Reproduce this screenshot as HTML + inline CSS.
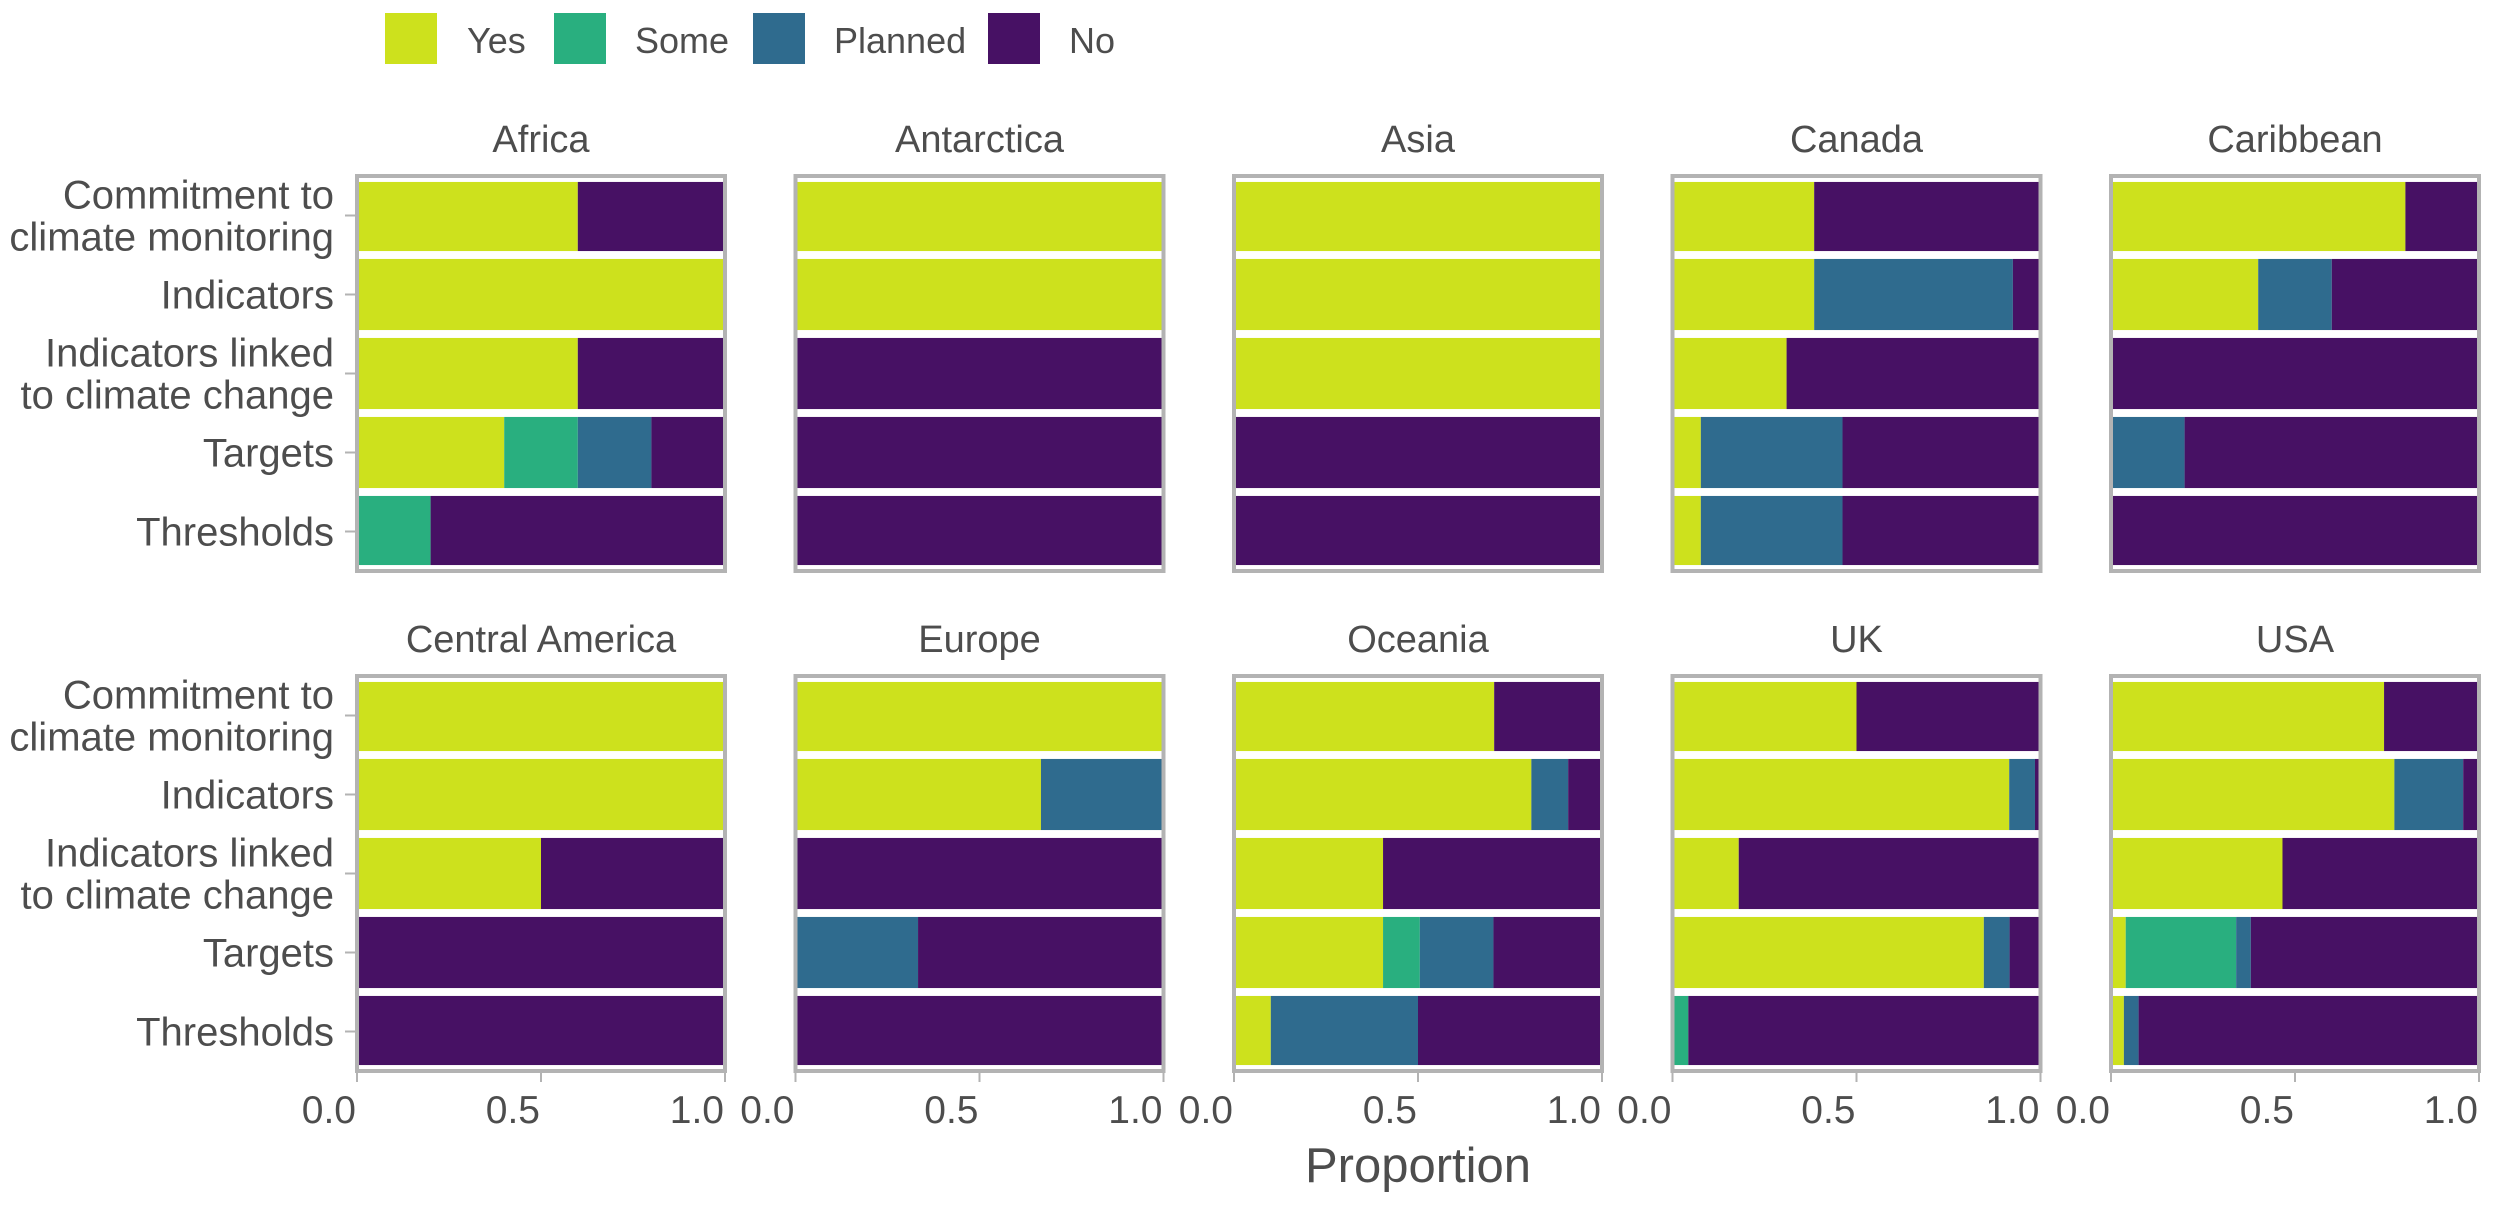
<!DOCTYPE html>
<html><head><meta charset="utf-8"><style>
html,body{margin:0;padding:0;background:#fff;}
svg text{font-family:"Liberation Sans",Arial,sans-serif;fill:#4d4d4d;}
</style></head><body>
<svg id="chart" width="2500" height="1200" xmlns="http://www.w3.org/2000/svg"></svg>
<script>
const categories = ["Yes","Some","Planned","No"];
const colors = ["#cde11d","#29af7f","#2f6b8e","#471164"];
const regions = ["Africa","Antarctica","Asia","Canada","Caribbean","Central America","Europe","Oceania","UK","USA"];
const items = [["Commitment to","climate monitoring"],["Indicators"],["Indicators linked","to climate change"],["Targets"],["Thresholds"]];
const xTicks = [0,0.5,1];
const xTickLabels = ["0.0","0.5","1.0"];
// values per region: rows = items, cols = [Yes, Some, Planned, No]
const africa = [[0.6,0,0,0.4],[1,0,0,0],[0.6,0,0,0.4],[0.4,0.2,0.2,0.2],[0,0.2,0,0.8]];
const antarctica = [[1,0,0,0],[1,0,0,0],[0,0,0,1],[0,0,0,1],[0,0,0,1]];
const asia = [[1,0,0,0],[1,0,0,0],[1,0,0,0],[0,0,0,1],[0,0,0,1]];
const canada = [[0.385,0,0,0.615],[0.385,0,0.54,0.075],[0.31,0,0,0.69],[0.077,0,0.385,0.538],[0.077,0,0.385,0.538]];
const caribbean = [[0.8,0,0,0.2],[0.4,0,0.2,0.4],[0,0,0,1],[0,0,0.2,0.8],[0,0,0,1]];
const centralAmerica = [[1,0,0,0],[1,0,0,0],[0.5,0,0,0.5],[0,0,0,1],[0,0,0,1]];
const europe = [[1,0,0,0],[0.667,0,0.333,0],[0,0,0,1],[0,0,0.333,0.667],[0,0,0,1]];
const oceania = [[0.707,0,0,0.293],[0.808,0,0.1,0.092],[0.405,0,0,0.595],[0.405,0.1,0.2,0.295],[0.1,0,0.4,0.5]];
const uk = [[0.5,0,0,0.5],[0.915,0,0.07,0.015],[0.18,0,0,0.82],[0.846,0,0.07,0.084],[0,0.043,0,0.957]];
const usa = [[0.742,0,0,0.258],[0.77,0,0.187,0.043],[0.466,0,0,0.534],[0.04,0.30,0.04,0.62],[0.035,0,0.04,0.925]];
const regionData = [africa,antarctica,asia,canada,caribbean,centralAmerica,europe,oceania,uk,usa];

const svg = document.getElementById('chart');
const NS = "http://www.w3.org/2000/svg";
function mk(tag, attrs, parent){const e=document.createElementNS(NS,tag);for(const k in attrs)e.setAttribute(k,attrs[k]);(parent||svg).appendChild(e);return e;}

const panelX0 = 357, panelStep = 438.5, panelW = 368, panelH = 395;
const rowY = [176, 676];
const bandH = panelH/5;

// legend
const legendKeyX = [385,554,753,988];
const legendTextX = [467,635,834,1069];
categories.forEach((c,i)=>{
  const g = mk('g',{});
  
  
  mk('rect',{x:legendKeyX[i],y:13,width:52,height:51,fill:colors[i]},g);
  const t = mk('text',{x:legendTextX[i],y:53,'font-size':36},g);
  t.textContent = c;
});

regions.forEach((r,ri)=>{
  const col = ri%5, row = Math.floor(ri/5);
  const px = panelX0 + col*panelStep, py = rowY[row];
  const xs = v => px + v*panelW;
  const g = mk('g',{});
  
  
  const st = mk('text',{x:px+panelW/2,y:py-24,'font-size':38,'text-anchor':'middle'},g);
  
  
  st.textContent = r;
  const data = regionData[ri];
  data.forEach((vals,ii)=>{
    const by = py + ii*bandH + bandH*0.05 + (ii===0?2:0);
    const bh = bandH*0.9 - (ii===0?2:0) - (ii===4?2:0);
    let acc = 0;
    vals.forEach((v,ci)=>{
      if(v<=0) return;
      const rect = mk('rect',{x:xs(acc),y:by,width:xs(acc+v)-xs(acc),height:bh,fill:colors[ci]},g);
      
      
      acc += v;
    });
  });
  const border = mk('rect',{x:px,y:py,width:panelW,height:panelH,fill:'none',stroke:'#b3b3b3','stroke-width':4},g);
  
  
  if(row===1){
    xTicks.forEach((t,ti)=>{
      mk('line',{x1:xs(t),x2:xs(t),y1:py+panelH+2,y2:py+panelH+11,stroke:'#b3b3b3','stroke-width':2},g);
      const tl = mk('text',{x:xs(t)-1,y:1123,'font-size':39,'text-anchor':'end'},g);
      
      
      tl.textContent = xTickLabels[ti];
    });
  }
});

// y axis labels
rowY.forEach(py=>{
  items.forEach((lines,ii)=>{
    const cy = py + ii*bandH + bandH/2;
    mk('line',{x1:345,x2:357,y1:cy,y2:cy,stroke:'#b3b3b3','stroke-width':2});
    const t = mk('text',{x:334,'font-size':40,'text-anchor':'end'});
    
    
    const n = lines.length;
    lines.forEach((ln,li)=>{
      const ts = mk('tspan',{x:334,y:cy + 14 + (li-(n-1)/2)*42},t);
      ts.textContent = ln;
    });
  });
});

const xt = mk('text',{x:1418,y:1182,'font-size':49,'text-anchor':'middle'});


xt.textContent = 'Proportion';
</script>
</body></html>
